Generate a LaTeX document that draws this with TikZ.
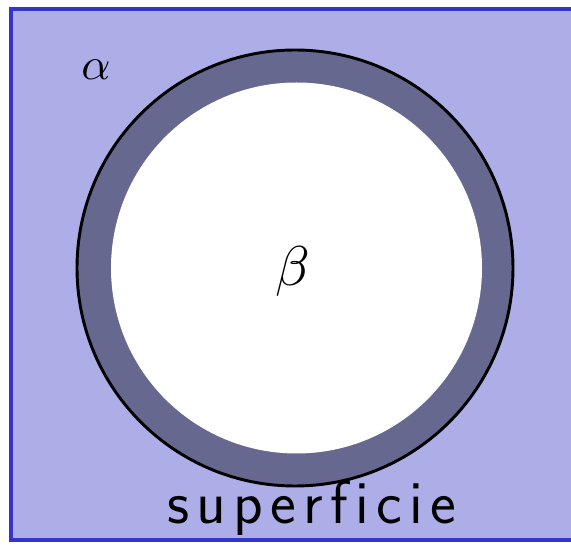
\documentclass[tikz,border=0pt]{standalone}
\usepackage{fontspec}
\definecolor{bgblue}{HTML}{ADAEE8}
\definecolor{edgeblue}{HTML}{3535CC}
\definecolor{ringgray}{HTML}{676890}
\newcommand{\lsp}{\hspace{5.5pt}}
\tikzset{
  lbl/.style={inner sep=0pt, text=black},
}
\begin{document}
\begin{tikzpicture}[x=0.75pt,y=-0.75pt]
\useasboundingbox (0,0) rectangle (571,555);
% region alpha
\fill[bgblue] (11,9) rectangle (571,540);
\draw[edgeblue, line width=2.4pt] (571,9) -- (11,9) -- (11,540) -- (571,540);
% surface ring
\coordinate (c) at (295,268);
\fill[ringgray] (c) circle[radius=218];
\fill[white] (296.5,268) circle[radius=185.5];
\draw[black, line width=2.2pt] (c) circle[radius=218];
% labels
\node[lbl, scale=3.4] (alpha) at (96,70) {$\alpha$};
\node[lbl, scale=4.2] (beta) at (293,272) {$\beta$};
\node[lbl, anchor=base] (sup) at (312,523) {\fontsize{46}{50}\selectfont\sffamily s\lsp u\lsp p\lsp e\lsp r\lsp f\lsp i\lsp c\lsp i\lsp e};
\end{tikzpicture}
\end{document}
